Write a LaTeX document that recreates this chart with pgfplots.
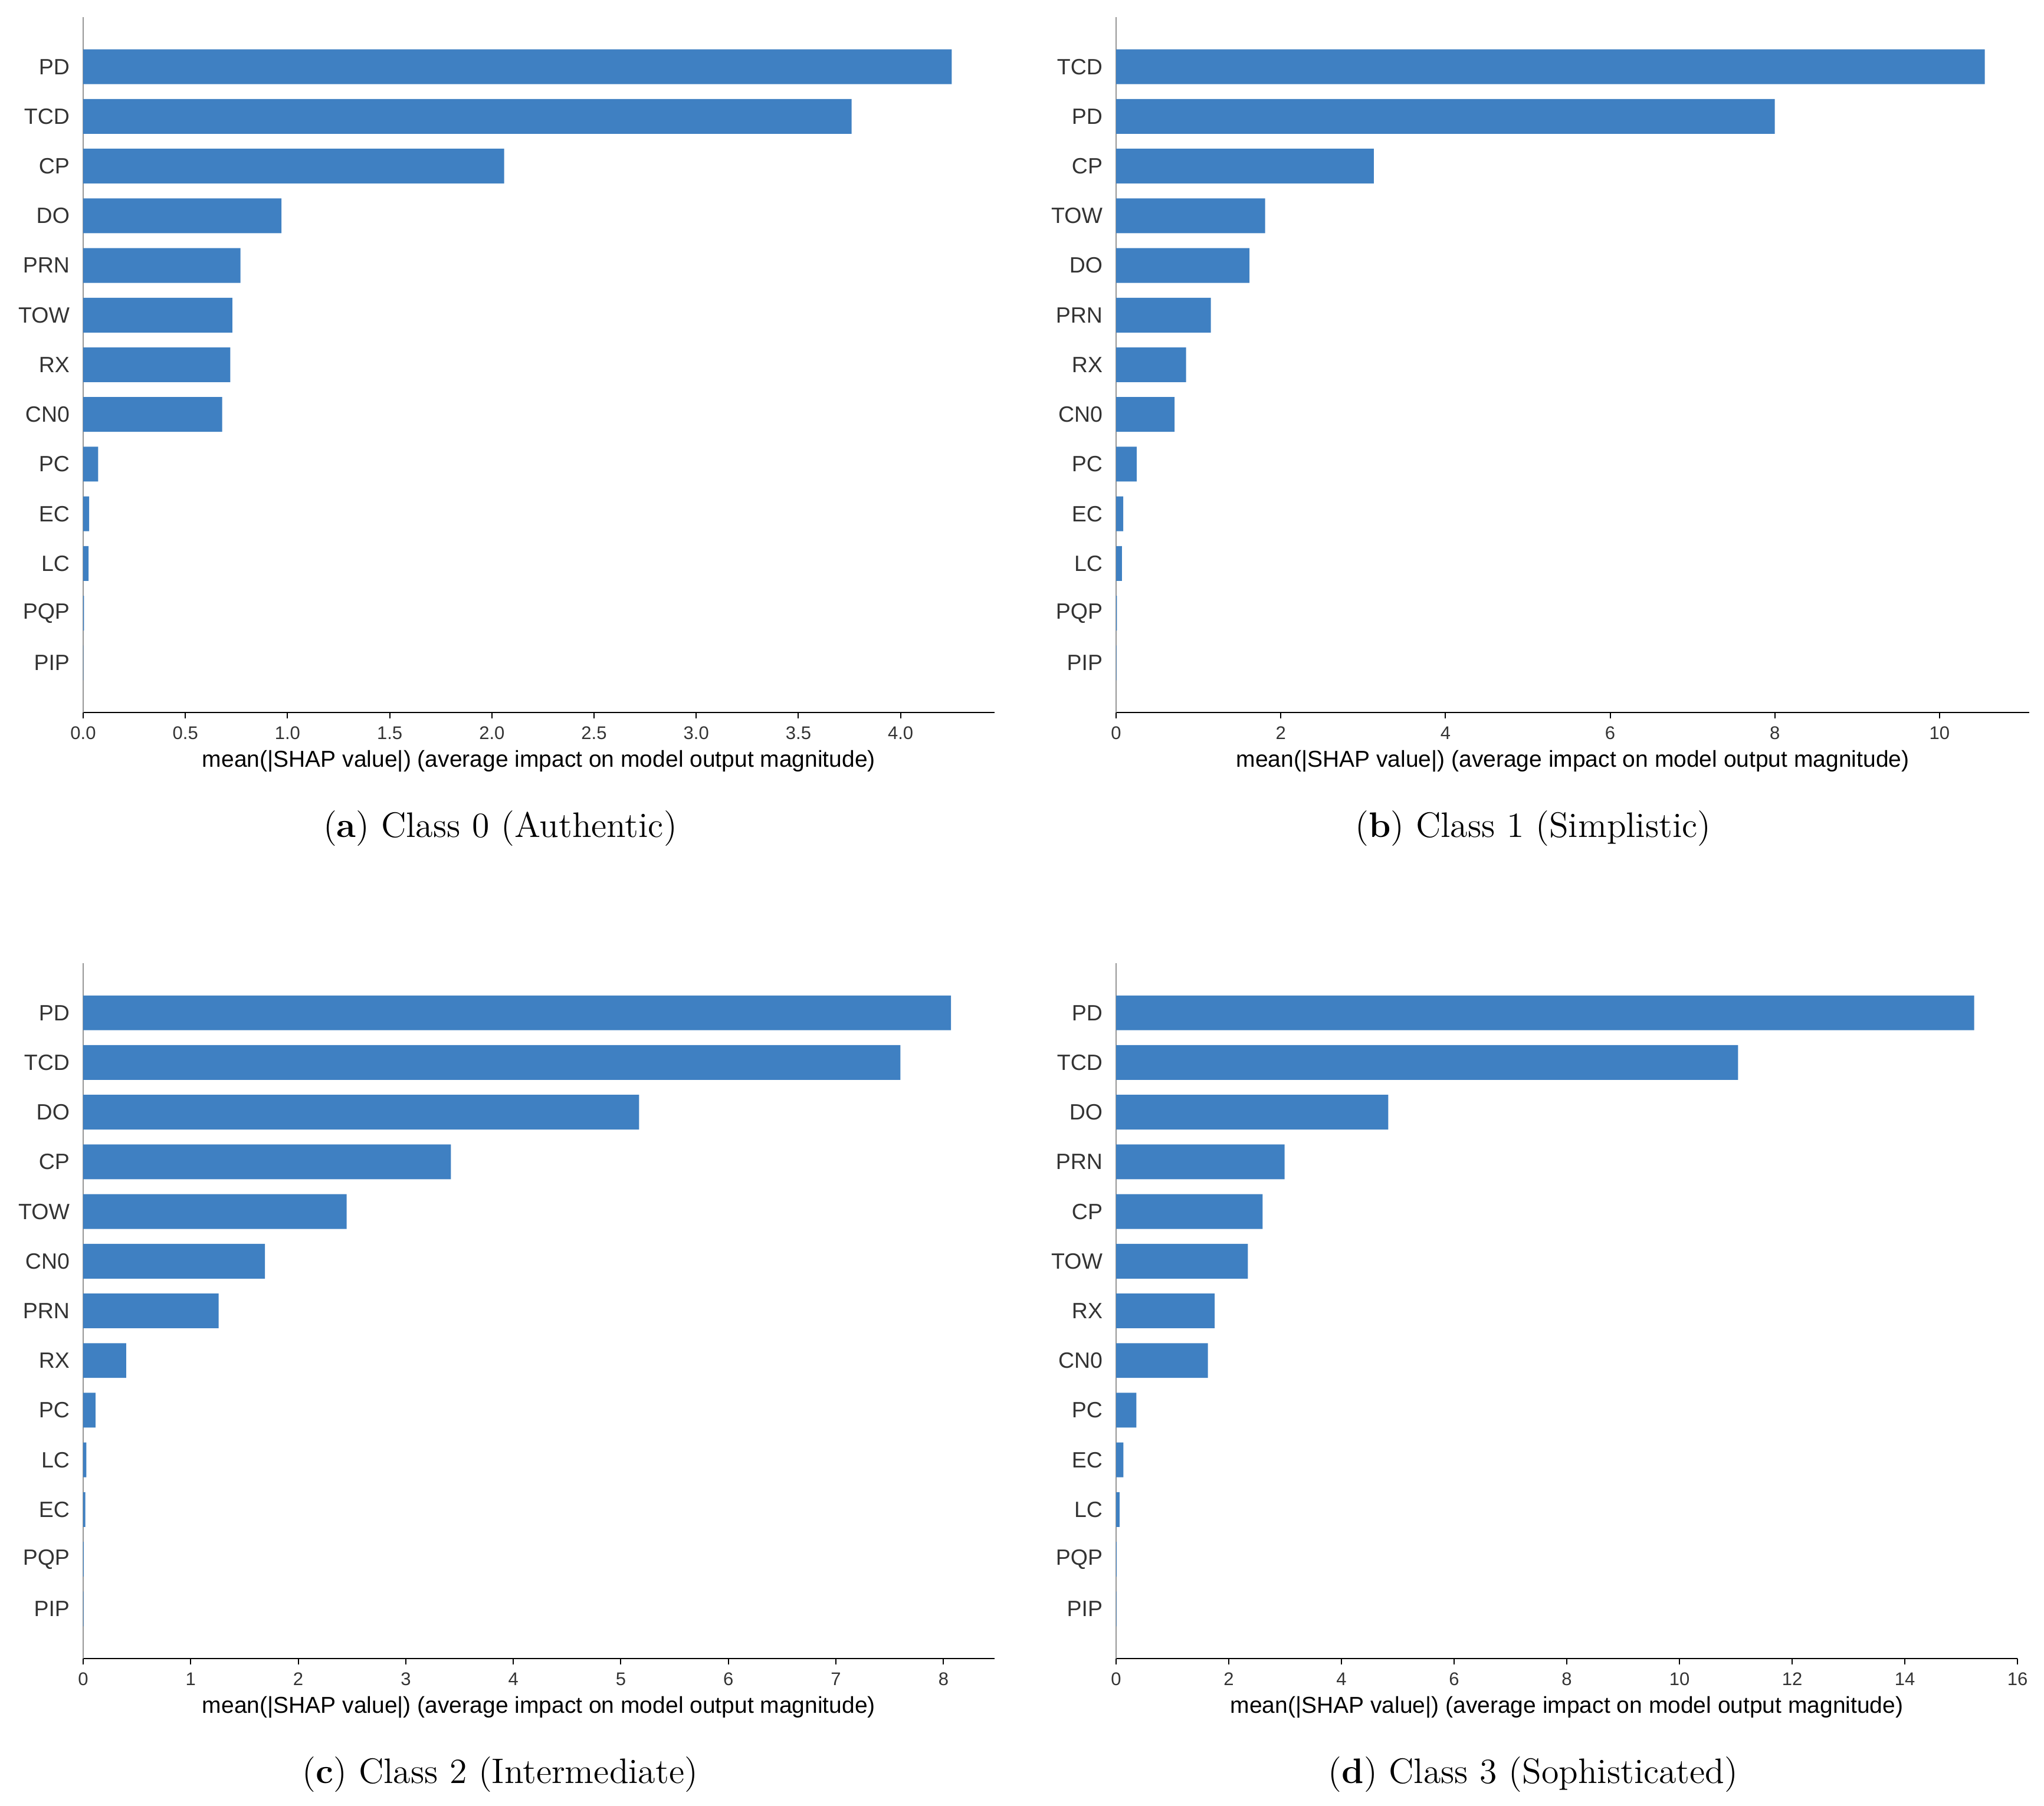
\documentclass[border=0pt]{standalone}
\usepackage{pgfplots}
\pgfplotsset{compat=1.18}
\usepackage{fontspec}
\newfontfamily\chartfont{Liberation Sans}

\definecolor{barblue}{RGB}{63,128,194}
\definecolor{spinegray}{RGB}{150,150,150}
\definecolor{labelgray}{RGB}{51,51,51}

\newcommand{\tickfont}{\chartfont\fontsize{6.2}{7.2}\selectfont}
\newcommand{\namefont}{\chartfont\fontsize{7.5}{8.6}\selectfont}
\newcommand{\xlabfont}{\chartfont\fontsize{7.8}{9}\selectfont}
\newcommand{\capfont}{\fontsize{12}{14}\selectfont}

\pgfplotsset{
  shapbar/.style={
    scale only axis,
    anchor=south west,
    height=235.8pt,
    xmin=0, ymin=-1, ymax=13,
    enlargelimits=false,
    axis x line=bottom,
    axis y line=left,
    axis line style={-},
    x axis line style={black, line width=0.52pt},
    y axis line style={spinegray, line width=0.3pt},
    tick align=outside,
    major tick length=2pt,
    x tick style={black, line width=0.4pt},
    y tick style={draw=none},
    ytick={0,...,12},
    /pgf/number format/assume math mode=true,
    xticklabel style={font=\tickfont, text=labelgray, inner sep=0pt, yshift=-2.6pt},
    yticklabel style={font=\namefont, text=labelgray, inner sep=0pt, xshift=-2.4pt},
    xlabel={mean(|SHAP value|) (average impact on model output magnitude)},
    xlabel style={font=\xlabfont, at={(axis description cs:0.5,0)}, anchor=base, inner sep=0pt, yshift=-18.4pt},
    minor tick num=0,
  },
  shapplot/.style={xbar, bar shift=0pt, bar width=0.7, fill=barblue, draw=none},
}

\begin{document}
\begin{tikzpicture}
\path[use as bounding box] (0pt,0pt) rectangle (693pt,-612.4pt);

% (a) Class 0
\begin{axis}[shapbar, at={(28.2pt,-241.6pt)}, width=309pt, xmax=4.46,
  xtick={0,0.5,...,4.0}, xticklabels={0.0,0.5,1.0,1.5,2.0,2.5,3.0,3.5,4.0},
  yticklabels={PIP,PQP,LC,EC,PC,CN0,RX,TOW,PRN,DO,CP,TCD,PD}]
  \addplot[shapplot] coordinates {
    (0.001,0) (0.004,1) (0.026,2) (0.029,3) (0.073,4) (0.68,5) (0.72,6)
    (0.73,7) (0.77,8) (0.97,9) (2.06,10) (3.76,11) (4.25,12)};
\end{axis}

% (b) Class 1
\begin{axis}[shapbar, at={(378.4pt,-241.6pt)}, width=309.6pt, xmax=11.09,
  xtick={0,2,...,10},
  yticklabels={PIP,PQP,LC,EC,PC,CN0,RX,PRN,DO,TOW,CP,PD,TCD}]
  \addplot[shapplot] coordinates {
    (0.005,0) (0.01,1) (0.07,2) (0.087,3) (0.25,4) (0.71,5) (0.85,6)
    (1.15,7) (1.62,8) (1.81,9) (3.13,10) (8.00,11) (10.55,12)};
\end{axis}

% (c) Class 2
\begin{axis}[shapbar, at={(28.2pt,-562.4pt)}, width=309pt, xmax=8.475,
  xtick={0,1,...,8},
  yticklabels={PIP,PQP,EC,LC,PC,RX,PRN,CN0,TOW,CP,DO,TCD,PD}]
  \addplot[shapplot] coordinates {
    (0.003,0) (0.005,1) (0.02,2) (0.03,3) (0.115,4) (0.40,5) (1.26,6)
    (1.69,7) (2.45,8) (3.42,9) (5.17,10) (7.60,11) (8.07,12)};
\end{axis}

% (d) Class 3
\begin{axis}[shapbar, at={(378.4pt,-562.4pt)}, width=305.6pt, xmax=16,
  xtick={0,2,...,16},
  yticklabels={PIP,PQP,LC,EC,PC,CN0,RX,TOW,CP,PRN,DO,TCD,PD}]
  \addplot[shapplot] coordinates {
    (0.005,0) (0.01,1) (0.06,2) (0.13,3) (0.36,4) (1.63,5) (1.75,6)
    (2.34,7) (2.60,8) (2.99,9) (4.83,10) (11.04,11) (15.23,12)};
\end{axis}

\node[font=\capfont, anchor=base] at (169.6pt,-283.8pt) {(\textbf{a}) Class 0 (Authentic)};
\node[font=\capfont, anchor=base] at (519.8pt,-283.8pt) {(\textbf{b}) Class 1 (Simplistic)};
\node[font=\capfont, anchor=base] at (169.6pt,-604.6pt) {(\textbf{c}) Class 2 (Intermediate)};
\node[font=\capfont, anchor=base] at (519.8pt,-604.6pt) {(\textbf{d}) Class 3 (Sophisticated)};
\end{tikzpicture}
\end{document}
